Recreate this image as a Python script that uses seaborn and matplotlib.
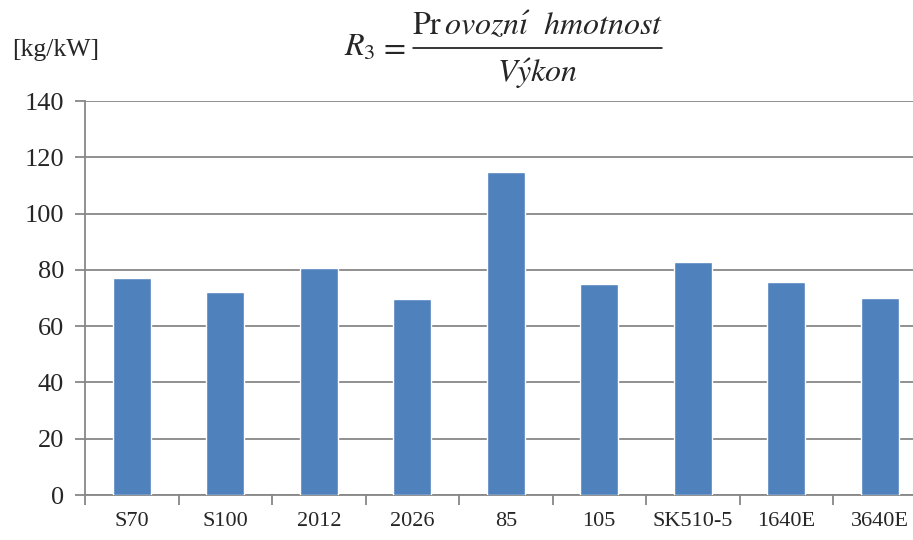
import matplotlib
matplotlib.use("Agg")
import matplotlib.pyplot as plt
from matplotlib.lines import Line2D
import seaborn as sns
import pandas as pd

# hodnoty
modely = ["S70", "S100", "2012", "2026", "85", "105", "SK510-5", "1640E", "3640E"]
r3 = [77.1, 72.1, 80.8, 69.6, 114.8, 75.0, 82.7, 75.7, 69.9]
y_ticks = [0, 20, 40, 60, 80, 100, 120, 140]

df = pd.DataFrame({"model": modely, "R3": r3})

sns.set_style("white")
plt.rcParams["font.family"] = ["Liberation Serif", "DejaVu Serif"]
plt.rcParams["mathtext.fontset"] = "stix"

W, H = 913, 540
fig = plt.figure(figsize=(W / 100, H / 100), dpi=100)
ax = fig.add_axes([85 / W, 45 / H, 841.5 / W, 394 / H])

sns.barplot(data=df, x="model", y="R3", color="#4F81BD", width=0.41,
            saturation=1, ax=ax, zorder=3)

ax.set_ylim(0, 140)
ax.set_xlim(-0.5, len(modely) - 0.5)
ax.set_yticks(y_ticks)
ax.yaxis.grid(True, color="#878787", linewidth=1.3, zorder=0)
ax.set_axisbelow(True)

ax.set_xlabel("")
ax.set_ylabel("")

for s in ["top", "right"]:
    ax.spines[s].set_visible(False)
for s in ["left", "bottom"]:
    ax.spines[s].set_color("#878787")
    ax.spines[s].set_linewidth(1.3)

ax.tick_params(axis="y", which="major", direction="out", length=7, width=1.3,
               color="#878787", labelsize=19, pad=8, left=True)
ax.tick_params(axis="x", which="major", length=0, labelsize=16, pad=12)
ax.set_xticks([i - 0.5 for i in range(len(modely) + 1)], minor=True)
ax.tick_params(axis="x", which="minor", direction="out", length=7, width=1.3,
               color="#878787", bottom=True)

def fx(px):
    return px / W

def fy(py):
    return 1 - py / H

fig.text(fx(12), fy(50), "[kg/kW]", fontsize=18.5, ha="left", va="center")

# vzorec R3 = Provozní hmotnost / Výkon
fig.text(fx(344), fy(56), r"$R_3$", fontsize=23, ha="left", va="baseline")
fig.text(fx(379), fy(56), r"$=$", fontsize=23, ha="left", va="baseline")
fig.text(fx(538), fy(35), r"$\mathrm{Pr}\,ovozn\acute{\imath}\ \ hmotnost$",
         fontsize=23, ha="center", va="baseline")
fig.text(fx(538), fy(82), r"$V\acute{y}kon$", fontsize=23, ha="center", va="baseline")
fig.add_artist(Line2D([fx(413), fx(662)], [fy(48), fy(48)], color="black",
                      linewidth=1.1))

fig.savefig("out.png", dpi=100)
